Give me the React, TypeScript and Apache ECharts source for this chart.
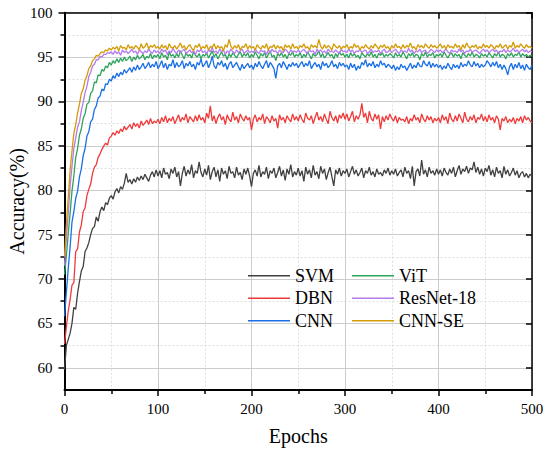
import React, { useEffect, useRef } from "react";
import * as echarts from "echarts";

const FONT = '"Liberation Serif", "Times New Roman", serif';

const EPOCHS: number[] = Array.from({ length: 251 }, (_, i) => i * 2);
const X_TICKS = [0, 100, 200, 300, 400, 500];
const Y_MAJOR = [60, 65, 70, 75, 80, 85, 90, 95, 100];
const Y_MINOR = [62.5, 67.5, 72.5, 77.5, 82.5, 87.5, 92.5, 97.5];

const NAMES = ["SVM", "DBN", "CNN", "ViT", "ResNet-18", "CNN-SE"];
const COLORS = ["#404040", "#f03a3a", "#1a6fe6", "#2ea35c", "#b57bec", "#d49b07"];

const SVM = [
  59.8, 62.5, 63.2, 63.9, 65.0, 66.8, 66.6, 68.4, 69.7, 70.9, 71.4, 73.1, 73.5, 74.1, 75.0, 75.7, 75.9, 77.0, 76.5, 77.6, 78.1, 77.7, 78.6, 78.4, 79.1,
  79.4, 79.0, 79.8, 80.2, 79.7, 80.4, 80.1, 80.8, 81.9, 80.9, 81.2, 80.7, 81.3, 80.9, 81.5, 81.1, 81.6, 81.2, 81.8, 81.4, 81.0, 81.7, 82.1, 81.5, 82.3,
  81.6, 82.2, 81.4, 82.5, 81.8, 82.0, 81.3, 82.4, 81.9, 82.6, 81.5, 82.1, 80.5, 81.9, 82.7, 81.6, 82.3, 81.8, 82.9, 81.4, 82.2, 81.9, 83.2, 82.0, 81.5,
  82.4, 81.7, 82.8, 81.2, 82.1, 82.6, 81.5, 82.3, 81.0, 82.5, 81.8, 82.2, 81.3, 82.7, 81.9, 82.1, 81.4, 82.6, 81.7, 82.0, 81.2, 82.4, 81.8, 82.5, 81.6,
  80.4, 81.9, 82.3, 81.6, 82.8, 81.5, 82.1, 81.8, 82.6, 81.3, 82.2, 81.9, 82.5, 81.4, 82.0, 82.7, 81.6, 82.3, 81.1, 82.4, 81.8, 82.9, 81.5, 82.1, 81.7,
  82.5, 81.6, 82.2, 81.0, 82.6, 81.8, 82.3, 81.4, 82.8, 81.7, 82.1, 81.3, 82.7, 81.9, 82.4, 81.2, 82.0, 82.6, 81.5, 80.5, 82.3, 81.8, 82.5, 81.6, 82.2,
  81.9, 82.4, 81.5, 82.1, 82.7, 81.8, 82.3, 81.6, 82.0, 82.5, 81.4, 82.2, 81.9, 82.6, 81.7, 82.1, 81.5, 82.4, 81.8, 82.0, 81.6, 82.3, 81.9, 82.5, 81.7,
  82.2, 81.8, 82.4, 81.6, 82.0, 82.3, 81.5, 82.6, 81.9, 82.2, 81.3, 82.7, 80.5, 82.1, 82.4, 81.6, 83.4, 81.8, 82.3, 81.5, 82.6, 81.9, 82.2, 81.7, 82.4,
  81.8, 82.3, 81.6, 82.5, 82.0, 81.7, 82.4, 81.9, 82.6, 81.5, 82.2, 82.8, 81.8, 82.4, 82.1, 82.7, 81.9, 82.5, 82.3, 83.2, 82.0, 82.6, 81.8, 82.4, 81.6,
  82.5, 82.1, 82.8, 81.7, 82.3, 81.5, 82.6, 81.9, 82.2, 81.4, 82.7, 81.8, 82.3, 81.6, 82.0, 82.5, 81.7, 82.2, 81.4, 81.9, 82.1, 81.5, 81.9, 81.4, 81.8,
  81.6,
];

const DBN = [
  62.7, 64.6, 66.4, 67.7, 69.3, 69.6, 73.1, 73.4, 75.3, 76.1, 77.6, 78.0, 79.4, 80.1, 80.7, 81.9, 82.6, 82.9, 83.7, 84.1, 84.6, 85.0, 85.3, 85.1, 85.9,
  86.1, 86.5, 86.2, 86.7, 86.4, 86.9, 86.6, 87.2, 86.8, 87.1, 87.4, 86.9, 87.6, 87.2, 87.5, 87.0, 87.8, 87.3, 87.6, 87.9, 87.4, 88.1, 87.5, 87.8, 87.6,
  88.0, 87.5, 88.2, 87.7, 88.4, 87.6, 88.1, 87.8, 88.3, 87.5, 88.0, 88.5, 87.7, 88.2, 87.9, 88.6, 87.6, 88.3, 88.0, 87.7, 88.4, 87.8, 88.5, 87.9, 88.2,
  87.6, 88.7, 88.1, 89.5, 87.8, 88.4, 87.5, 88.2, 88.6, 87.9, 88.3, 87.4, 88.5, 88.0, 87.7, 88.8, 87.9, 88.3, 87.6, 88.6, 88.1, 87.8, 88.4, 87.9, 88.2,
  86.8, 88.0, 88.5, 87.7, 88.2, 87.9, 88.6, 87.5, 88.3, 88.0, 87.6, 88.4, 87.8, 88.1, 87.0, 88.5, 87.9, 88.2, 87.6, 88.4, 88.0, 87.7, 88.6, 87.9, 88.3,
  87.8, 88.5, 88.0, 87.6, 88.7, 88.1, 87.9, 88.4, 87.5, 88.2, 88.8, 87.9, 88.3, 87.7, 88.6, 88.0, 87.5, 88.9, 88.2, 87.8, 88.4, 87.6, 88.5, 88.1, 88.7,
  88.0, 88.6, 87.8, 88.3, 88.9, 87.7, 88.4, 88.0, 88.5, 89.8, 88.2, 88.7, 87.6, 88.9, 88.1, 87.8, 88.6, 88.0, 88.5, 86.9, 88.3, 87.7, 88.4, 87.9, 88.6,
  88.1, 87.8, 88.4, 87.6, 88.2, 87.9, 88.0, 87.7, 88.3, 87.5, 88.1, 87.8, 88.5, 87.9, 88.2, 87.6, 88.6, 88.0, 87.7, 88.4, 87.9, 88.3, 87.6, 88.1, 87.8,
  88.2, 87.6, 88.5, 87.9, 88.3, 87.5, 88.7, 88.0, 87.7, 88.4, 87.8, 88.6, 88.1, 87.6, 88.8, 88.0, 87.7, 88.3, 87.9, 88.5, 87.6, 88.2, 88.0, 88.6, 87.8,
  88.3, 87.7, 88.5, 87.9, 88.2, 87.6, 88.4, 88.0, 86.8, 88.1, 87.8, 88.3, 87.6, 88.0, 87.7, 88.2, 87.5, 88.1, 87.8, 88.3, 87.6, 88.4, 87.9, 88.2, 87.8,
  87.6,
];

const CNN = [
  65.8, 68.5, 71.2, 73.6, 76.4, 77.6, 79.1, 79.9, 81.5, 82.4, 83.9, 84.7, 86.1, 86.6, 87.7, 88.0, 89.1, 89.5, 90.4, 90.6, 91.4, 91.2, 92.0, 91.9, 92.5,
  92.3, 92.9, 92.6, 93.2, 92.8, 93.3, 93.0, 93.6, 93.2, 93.5, 93.8, 93.3, 93.9, 93.5, 94.1, 93.6, 93.9, 94.3, 93.7, 94.0, 94.4, 93.8, 94.2, 93.9, 94.5,
  93.7, 94.1, 94.6, 93.8, 94.3, 93.6, 94.2, 94.0, 94.7, 93.8, 94.4, 93.9, 94.1, 94.6, 93.7, 94.3, 94.0, 94.5, 93.9, 94.2, 93.6, 94.4, 94.1, 94.8, 93.9,
  94.2, 94.6, 93.8, 94.3, 95.1, 94.0, 93.7, 94.4, 94.1, 94.6, 93.9, 94.3, 93.6, 94.2, 94.5, 93.8, 94.1, 94.4, 93.9, 93.5, 94.2, 93.7, 94.0, 94.3, 93.8,
  94.1, 93.6, 94.3, 93.9, 94.5, 94.0, 93.7, 94.2, 94.6, 93.8, 94.4, 94.1, 93.7, 92.6, 94.0, 94.3, 93.8, 94.5, 94.1, 93.6, 94.2, 93.9, 94.4, 94.0, 94.3,
  93.8, 94.2, 94.5, 93.9, 94.3, 94.0, 94.6, 93.7, 94.1, 94.4, 93.9, 94.2, 93.6, 94.5, 94.0, 94.3, 93.8, 94.1, 94.6, 93.9, 94.2, 93.7, 94.4, 94.0, 94.3,
  93.9, 94.1, 93.6, 94.3, 93.8, 94.2, 93.5, 94.0, 93.7, 94.4, 94.1, 94.7, 93.9, 94.3, 94.0, 94.5, 93.8, 94.2, 93.9, 94.6, 94.1, 94.3, 93.8, 94.2, 94.0,
  93.7, 94.1, 93.5, 93.9, 93.6, 94.2, 93.8, 94.0, 93.5, 93.9, 94.3, 93.7, 94.1, 93.8, 94.4, 94.0, 93.9, 94.6, 94.2, 94.0, 94.5, 93.8, 94.3, 93.9, 94.2,
  93.8, 94.1, 93.6, 94.0, 93.7, 94.3, 93.9, 93.6, 94.2, 93.8, 94.1, 93.7, 94.4, 93.9, 94.2, 94.0, 94.6, 94.1, 93.9, 94.5, 94.0, 94.3, 93.8, 94.2, 93.9,
  94.1, 94.6, 94.3, 93.9, 94.4, 94.0, 94.5, 93.8, 94.2, 93.6, 94.1, 93.7, 93.0, 93.9, 94.3, 93.6, 94.2, 93.8, 94.4, 93.7, 94.1, 93.5, 94.2, 93.8, 93.6,
  94.1,
];

const VIT = [
  70.5, 72.6, 75.1, 77.4, 79.9, 81.6, 83.7, 84.7, 86.2, 86.9, 88.1, 88.6, 89.7, 89.9, 90.9, 91.2, 92.2, 92.1, 93.0, 92.9, 93.6, 93.4, 94.0, 93.8, 94.4,
  94.1, 94.6, 94.3, 94.8, 94.4, 94.9, 94.5, 95.0, 94.6, 94.8, 95.1, 94.5, 95.0, 94.7, 95.2, 94.8, 95.0, 95.3, 94.7, 95.1, 94.9, 95.4, 94.8, 95.2, 95.0,
  95.3, 94.8, 95.5, 95.0, 95.2, 94.7, 95.6, 95.1, 95.3, 94.9, 95.4, 95.0, 95.7, 95.2, 94.8, 95.5, 95.1, 95.3, 94.9, 95.6, 95.2, 95.0, 95.4, 94.8, 95.3,
  95.1, 95.5, 94.9, 95.3, 95.7, 95.0, 95.4, 94.8, 95.2, 95.6, 95.1, 95.3, 94.7, 95.4, 95.0, 95.5, 95.2, 94.9, 95.3, 95.6, 95.0, 95.4, 95.1, 95.5, 94.9,
  95.3, 95.0, 95.6, 95.2, 94.8, 95.4, 95.1, 95.5, 94.9, 95.3, 95.7, 95.0, 95.2, 94.6, 95.4, 95.1, 95.5, 95.0, 95.3, 94.8, 95.4, 95.2, 95.6, 95.0, 95.3,
  95.1, 95.5, 94.9, 95.3, 95.0, 95.6, 95.2, 94.8, 95.4, 95.1, 95.3, 95.7, 95.0, 95.4, 94.9, 95.2, 95.5, 95.1, 95.3, 94.8, 95.4, 95.0, 95.6, 95.2, 95.4,
  95.0, 95.3, 94.9, 95.5, 95.1, 95.4, 95.0, 95.2, 94.8, 95.5, 95.2, 95.0, 95.4, 95.1, 95.6, 95.0, 95.3, 94.9, 95.4, 95.2, 95.5, 95.0, 95.3, 95.1, 95.4,
  95.2, 94.9, 95.5, 95.1, 95.3, 95.0, 95.6, 95.2, 94.8, 95.4, 95.1, 95.5, 95.0, 95.3, 95.2, 94.7, 95.4, 95.1, 95.6, 95.0, 95.3, 95.2, 95.5, 94.9, 95.3,
  95.1, 95.4, 95.0, 95.6, 95.2, 94.9, 95.3, 95.5, 95.0, 95.4, 95.1, 95.3, 94.8, 95.5, 95.2, 95.0, 95.4, 95.1, 95.6, 95.0, 95.3, 95.2, 94.9, 95.4, 95.1,
  95.3, 95.0, 95.5, 95.2, 94.9, 95.4, 95.1, 95.6, 95.0, 95.3, 95.2, 94.8, 95.4, 95.1, 95.5, 95.0, 95.3, 95.2, 95.6, 95.0, 95.4, 95.1, 95.3, 95.0, 95.2,
  95.1,
];

const RESNET = [
  71.5, 74.6, 77.4, 80.4, 82.7, 84.7, 85.9, 87.1, 87.7, 89.0, 89.9, 91.0, 91.7, 92.8, 93.3, 94.0, 94.2, 94.7, 94.7, 95.1, 95.0, 95.3, 95.3, 95.5, 95.4,
  95.6, 95.3, 95.7, 95.4, 95.6, 95.2, 95.8, 95.5, 95.7, 95.4, 95.6, 95.9, 95.5, 95.7, 95.3, 95.8, 95.6, 95.4, 95.7, 95.5, 95.9, 95.6, 95.4, 95.8, 95.5,
  95.7, 95.4, 95.9, 95.6, 95.8, 95.3, 95.7, 95.5, 96.0, 95.6, 95.4, 95.8, 95.5, 95.7, 95.9, 95.4, 95.6, 95.8, 95.5, 95.7, 95.3, 95.8, 95.6, 95.9, 95.5,
  95.7, 95.4, 95.8, 95.6, 96.1, 95.5, 95.7, 95.4, 95.9, 95.6, 95.8, 95.3, 95.7, 95.5, 95.9, 95.6, 95.4, 95.8, 95.5, 95.7, 95.9, 95.4, 95.6, 95.8, 95.5,
  95.7, 95.5, 95.9, 95.6, 95.4, 95.8, 95.6, 95.7, 95.3, 95.8, 95.5, 95.9, 95.6, 95.7, 95.4, 95.8, 95.6, 95.5, 95.9, 95.7, 95.4, 95.8, 95.6, 95.7, 95.5,
  95.8, 95.5, 95.7, 95.9, 95.6, 95.4, 95.8, 95.6, 95.7, 95.3, 95.9, 95.6, 95.8, 95.5, 95.7, 95.4, 95.9, 95.6, 95.7, 95.5, 95.8, 95.6, 95.4, 95.9, 95.6,
  95.7, 95.5, 95.9, 95.6, 95.8, 95.4, 95.7, 95.6, 95.9, 95.5, 95.7, 95.8, 95.4, 95.6, 95.9, 95.5, 95.7, 95.6, 95.8, 95.4, 95.7, 95.9, 95.5, 95.6, 95.8,
  95.5, 95.7, 95.9, 95.6, 95.4, 95.8, 95.6, 95.7, 95.5, 96.0, 95.6, 95.8, 95.4, 95.7, 95.6, 95.9, 95.5, 95.7, 95.8, 95.4, 95.6, 95.9, 95.7, 95.5, 95.8,
  95.6, 95.8, 95.5, 95.7, 95.9, 95.6, 95.4, 95.8, 95.6, 95.7, 95.5, 95.9, 95.6, 95.8, 95.4, 95.7, 95.6, 95.9, 95.5, 95.7, 95.8, 95.6, 95.4, 95.7, 95.9,
  95.6, 95.8, 95.5, 95.7, 95.9, 95.6, 95.8, 95.4, 95.7, 95.6, 95.9, 95.5, 95.8, 95.6, 95.7, 96.0, 95.6, 95.8, 95.5, 95.7, 95.9, 95.6, 95.8, 95.5, 95.7,
  95.6,
];

const CNNSE = [
  72.5, 76.1, 79.2, 82.3, 84.4, 86.4, 87.4, 88.7, 89.7, 90.9, 91.4, 92.4, 92.9, 93.7, 94.0, 94.6, 94.8, 95.2, 95.1, 95.4, 95.6, 95.5, 95.8, 95.7, 96.0,
  95.8, 96.1, 95.9, 96.2, 95.7, 96.3, 96.0, 96.1, 95.8, 96.4, 96.0, 96.2, 95.9, 96.3, 96.1, 95.8, 96.5, 96.0, 96.2, 96.6, 95.9, 96.3, 96.1, 96.4, 96.0,
  96.2, 95.9, 96.4, 96.0, 96.3, 95.8, 96.5, 96.1, 96.0, 96.3, 95.9, 96.2, 96.6, 96.0, 96.3, 95.8, 96.2, 96.4, 96.0, 95.7, 96.3, 96.1, 96.5, 95.9, 96.2,
  96.0, 96.4, 95.8, 96.2, 96.1, 96.5, 95.9, 96.3, 96.0, 96.2, 95.7, 96.4, 96.1, 97.0, 96.2, 95.9, 96.3, 96.0, 96.4, 95.8, 96.2, 96.1, 96.5, 95.9, 96.3,
  96.0, 96.2, 95.8, 96.4, 96.1, 95.9, 96.3, 96.0, 96.5, 95.8, 96.2, 96.1, 96.4, 95.9, 96.3, 96.0, 96.2, 95.7, 96.4, 96.1, 96.3, 95.9, 96.5, 96.0, 96.2,
  95.9, 96.3, 96.1, 96.5, 96.0, 96.2, 95.8, 96.4, 96.1, 96.3, 96.0, 97.0, 96.2, 95.9, 96.4, 96.0, 96.3, 96.1, 95.8, 96.5, 96.2, 96.0, 96.3, 95.9, 96.2,
  96.1, 96.4, 95.9, 96.2, 96.0, 96.5, 96.1, 96.3, 95.8, 96.2, 96.0, 96.4, 96.1, 95.9, 96.3, 96.0, 96.5, 96.2, 95.9, 96.3, 96.1, 96.4, 96.0, 96.2, 95.8,
  96.3, 96.0, 96.5, 96.1, 96.2, 95.9, 96.4, 96.0, 96.3, 96.1, 96.6, 96.0, 96.2, 95.8, 96.4, 96.1, 96.3, 96.0, 96.5, 96.2, 96.0, 96.4, 96.1, 96.3, 96.0,
  96.2, 96.5, 96.0, 96.3, 95.9, 96.4, 96.1, 96.2, 96.0, 96.5, 96.1, 96.3, 95.8, 96.4, 96.0, 96.6, 96.2, 96.0, 96.3, 96.1, 96.4, 95.9, 96.2, 96.0, 96.5,
  96.1, 96.3, 96.0, 96.4, 96.2, 95.9, 96.3, 96.1, 96.5, 96.0, 96.2, 96.4, 95.9, 96.3, 96.1, 96.7, 96.0, 96.3, 96.1, 96.5, 96.2, 96.0, 96.4, 96.1, 96.2,
  96.0,
];

const SERIES_VALUES = [SVM, DBN, CNN, VIT, RESNET, CNNSE];

export default function App() {
  const ref = useRef<HTMLDivElement>(null);

  useEffect(() => {
    if (!ref.current) return;
    const chart = echarts.init(ref.current, undefined, { renderer: "svg" });
    const black = "#000";
    const majorGrid = { show: true, lineStyle: { color: "#cccccc", width: 1 } };
    const minorGrid = { show: true, lineStyle: { color: "#dedede", width: 1, type: [2, 2] } };
    const legendText = { fontFamily: FONT, fontSize: 18, color: black, lineHeight: 18 };
    const legendBase = {
      orient: "vertical",
      top: 266.7,
      padding: 0,
      icon: "rect",
      itemWidth: 42,
      itemHeight: 1.6,
      itemGap: 4.5,
      textStyle: legendText,
    };

    const option: any = {
      animation: false,
      backgroundColor: "#fff",
      textStyle: { fontFamily: FONT },
      grid: { left: 64.5, right: 18, top: 12.7, bottom: 66, containLabel: false, outerBoundsMode: "none" },
      legend: [
        { ...legendBase, data: NAMES.slice(0, 3), left: 248 },
        { ...legendBase, data: NAMES.slice(3), left: 352 },
      ],
      xAxis: [
        {
          type: "value",
          position: "bottom",
          min: X_TICKS[0],
          max: X_TICKS[X_TICKS.length - 1],
          interval: 100,
          axisLine: { show: true, onZero: false, lineStyle: { color: black, width: 2 } },
          axisTick: { show: true, inside: false, length: 6, lineStyle: { color: black, width: 1.5 } },
          minorTick: { show: true, splitNumber: 2, length: 4, lineStyle: { color: black, width: 1.5 } },
          splitLine: majorGrid,
          minorSplitLine: minorGrid,
          axisLabel: { fontFamily: FONT, fontSize: 15, color: black, margin: 11 },
          name: "Epochs",
          nameLocation: "middle",
          nameGap: 36,
          nameMoveOverlap: false,
          nameTextStyle: { fontFamily: FONT, fontSize: 20, color: black },
        },
        {
          type: "value",
          position: "top",
          min: X_TICKS[0],
          max: X_TICKS[X_TICKS.length - 1],
          interval: 100,
          axisLine: { show: true, onZero: false, lineStyle: { color: black, width: 1.5 } },
          axisTick: { show: true, inside: true, length: 6, lineStyle: { color: black, width: 1.5 } },
          axisLabel: { show: false },
          splitLine: { show: false },
        },
      ],
      yAxis: [
        {
          type: "value",
          position: "left",
          min: 57.5,
          max: 100,
          interval: 2.5,
          axisLine: { show: true, onZero: false, lineStyle: { color: black, width: 2 } },
          axisTick: { show: true, inside: false, length: 6, customValues: Y_MAJOR, lineStyle: { color: black, width: 1.5 } },
          axisLabel: { fontFamily: FONT, fontSize: 15, color: black, margin: 12, customValues: Y_MAJOR },
          splitLine: majorGrid,
          name: "Accuracy(%)",
          nameLocation: "middle",
          nameGap: 38,
          nameMoveOverlap: false,
          nameTextStyle: { fontFamily: FONT, fontSize: 20, color: black },
        },
        {
          type: "value",
          position: "left",
          min: 57.5,
          max: 100,
          interval: 2.5,
          axisLine: { show: false, onZero: false },
          axisTick: { show: true, inside: false, length: 4, customValues: Y_MINOR, lineStyle: { color: black, width: 1.5 } },
          axisLabel: { show: false },
          splitLine: minorGrid,
        },
        {
          type: "value",
          position: "right",
          min: 57.5,
          max: 100,
          interval: 2.5,
          axisLine: { show: true, onZero: false, lineStyle: { color: black, width: 1.5 } },
          axisTick: { show: true, inside: true, length: 6, customValues: Y_MAJOR, lineStyle: { color: black, width: 1.5 } },
          axisLabel: { show: false },
          splitLine: { show: false },
        },
      ],
      series: SERIES_VALUES.map((vals, k) => ({
        name: NAMES[k],
        type: "line",
        xAxisIndex: 0,
        yAxisIndex: 0,
        symbol: "none",
        color: COLORS[k],
        lineStyle: { color: COLORS[k], width: 1.3 },
        data: vals.map((v, i) => [EPOCHS[i], v]),
        z: 3 + k,
      })),
    };
    chart.setOption(option);
    return () => chart.dispose();
  }, []);

  return (
    <div
      ref={ref}
      style={{ position: "absolute", left: 0, top: 0, width: 550, height: 456, background: "#fff" }}
    />
  );
}
